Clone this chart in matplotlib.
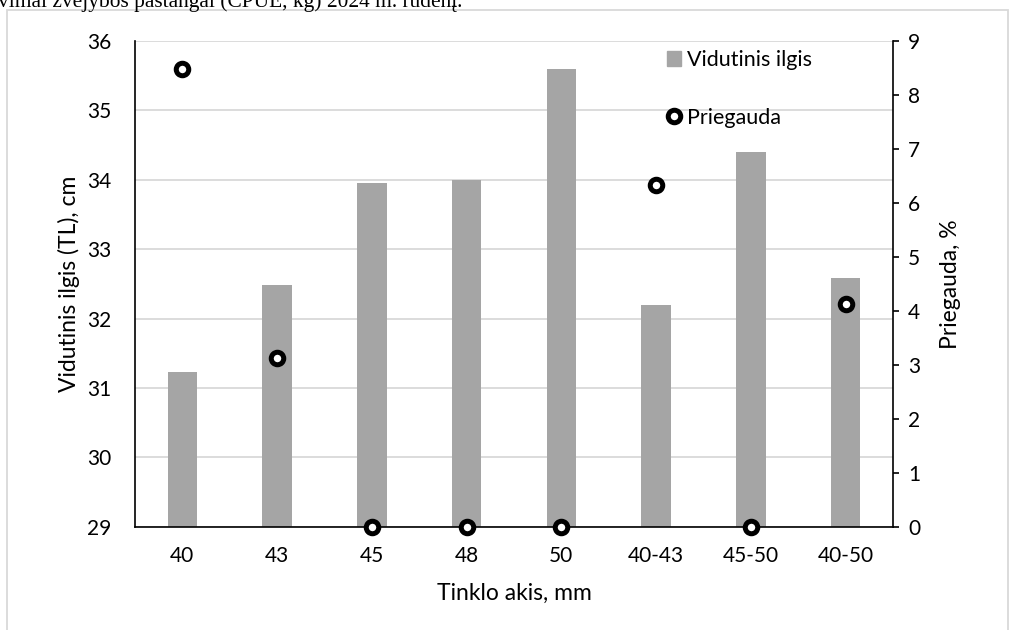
import matplotlib
matplotlib.use("Agg")
import matplotlib.pyplot as plt
from matplotlib.patches import Rectangle
from matplotlib.lines import Line2D

categories = ["40", "43", "45", "48", "50", "40-43", "45-50", "40-50"]
mean_length = [31.23, 32.48, 33.95, 34.0, 35.60, 32.19, 34.40, 32.58]
bycatch = [8.49, 3.12, 0.0, 0.0, 0.0, 6.33, 0.0, 4.13]
left_ticks = [29, 30, 31, 32, 33, 34, 35, 36]
right_ticks = [0, 1, 2, 3, 4, 5, 6, 7, 8, 9]

FONT = ["Lato", "DejaVu Sans"]
plt.rcParams['font.family'] = FONT

W, H = 1015, 630
fig = plt.figure(figsize=(W / 100, H / 100), dpi=100)

# outer chart border (light grey)
fig.patches.append(Rectangle((7 / W, -0.1), 1001 / W, 1 - 10 / H + 0.1,
                             transform=fig.transFigure, fill=False,
                             edgecolor="#d9d9d9", linewidth=1.3, zorder=0))

# cut-off caption text at top
fig.text(-2 / W, 1 - 6.5 / H, "vimai žvejybos pastangai (CPUE, kg) 2024 m. rudenį.",
         family=["Liberation Serif", "DejaVu Serif"], fontsize=15.4,
         ha="left", va="baseline", color="black")

ax = fig.add_axes([135 / W, 1 - 526.7 / H, (893 - 135) / W, (526.7 - 41) / H])
x = list(range(len(categories)))
ax.bar(x, mean_length, width=0.31, color="#a5a5a5", zorder=2, label="Vidutinis ilgis")
ax.set_ylim(29, 36)
ax.set_xlim(-0.5, len(categories) - 0.5)
ax.set_yticks(left_ticks)
ax.set_xticks(x)
ax.set_xticklabels(categories)
ax.grid(axis="y", color="#d9d9d9", linewidth=1.3, zorder=0)
ax.set_axisbelow(True)
ax.tick_params(axis="y", length=0, pad=17, labelsize=15)
ax.tick_params(axis="x", length=0, pad=14, labelsize=15)
ax.spines["top"].set_visible(False)
ax.spines["right"].set_visible(False)
ax.spines["left"].set_linewidth(1.2)
ax.spines["bottom"].set_linewidth(1.2)
ax.set_ylabel("Vidutinis ilgis (TL), cm", fontsize=16.5, labelpad=5)
ax.set_xlabel("Tinklo akis, mm", fontsize=16.5, labelpad=12)

ax2 = ax.twinx()
ax2.plot(x, bycatch, linestyle="none", marker="o", markersize=9,
         markerfacecolor="white", markeredgecolor="black", markeredgewidth=3.6,
         clip_on=False, zorder=5, label="Priegauda")
ax2.set_ylim(0, 9)
ax2.set_yticks(right_ticks)
ax2.tick_params(axis="y", length=4, width=1.2, direction="out", pad=7, labelsize=15)
ax2.spines["top"].set_visible(False)
ax2.spines["left"].set_visible(False)
ax2.spines["bottom"].set_visible(False)
ax2.spines["right"].set_linewidth(1.2)
ax2.set_ylabel("Priegauda, %", fontsize=16.5, labelpad=14)

handles = [Rectangle((0, 0), 1, 1, color="#a5a5a5"),
           Line2D([], [], linestyle="none", marker="o", markersize=9,
                  markerfacecolor="white", markeredgecolor="black", markeredgewidth=3.6)]
fig.legend(handles, ["Vidutinis ilgis", "Priegauda"], loc="upper left",
           bbox_to_anchor=(667 / W, 1 - 50 / H), frameon=False, fontsize=15.5,
           handlelength=0.65, handleheight=0.65, handletextpad=0.3, labelspacing=1.75,
           borderaxespad=0, borderpad=0)

fig.savefig("out.png", dpi=100)
